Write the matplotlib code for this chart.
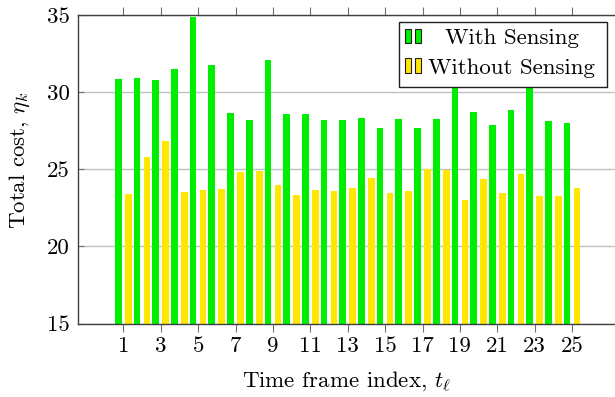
import matplotlib
matplotlib.use("Agg")
import matplotlib.pyplot as plt
from matplotlib.patches import Rectangle
import numpy as np

# ---- data ----
frames = list(range(1, 26))
with_sensing = [30.84, 30.93, 30.80, 31.50, 34.90, 31.77, 28.64, 28.20, 32.10, 28.55,
                28.57, 28.20, 28.20, 28.33, 27.66, 28.27, 27.68, 28.27, 31.00, 28.74,
                27.86, 28.85, 31.00, 28.10, 28.00]
without_sensing = [23.38, 25.80, 26.80, 23.50, 23.67, 23.70, 24.85, 24.87, 23.98, 23.33,
                   23.65, 23.56, 23.76, 24.44, 23.44, 23.59, 25.04, 24.95, 22.98, 24.37,
                   23.44, 24.69, 23.25, 23.25, 23.76]
xtick_vals = list(range(1, 26, 2))
ytick_vals = [15, 20, 25, 30, 35]
series_names = ["With Sensing", "Without Sensing"]

GREEN = "#00ee00"
YELLOW = "#ffe800"

plt.rcParams["font.family"] = ["cmr10"]
plt.rcParams["mathtext.fontset"] = "cm"
plt.rcParams["axes.formatter.use_mathtext"] = True

W, H = 615, 397
fig = plt.figure(figsize=(W / 100, H / 100), dpi=100)

def fx(p):
    return p / W

def fy(p):
    return 1 - p / H

ax_l, ax_r, ax_t, ax_b = 78.3, 617, 15, 323.5
ax = fig.add_axes([fx(ax_l), fy(ax_b), fx(ax_r) - fx(ax_l), fy(ax_t) - fy(ax_b)])

unit = 18.7
x0 = 1 - (123.3 - ax_l) / unit
x1 = 1 + (ax_r - 123.3) / unit
ax.set_xlim(x0, x1)
ax.set_ylim(15, 35)

x = np.array(frames, dtype=float)
bw = 0.36
off = 0.267
ax.bar(x - off, with_sensing, width=bw, color=GREEN, edgecolor="none", zorder=2)
ax.bar(x + off, without_sensing, width=bw, color=YELLOW, edgecolor="none", zorder=2)

ax.set_xticks(xtick_vals)
ax.set_xticklabels([str(v) for v in xtick_vals])
ax.set_yticks(ytick_vals)
ax.set_yticklabels([str(v) for v in ytick_vals])

ax.yaxis.grid(True, color="#c0c0c0", linewidth=1.0, zorder=0)
ax.set_axisbelow(True)

ax.tick_params(axis="x", which="both", direction="out", length=6, width=0.8,
               color="#707070", top=True, bottom=True, labelsize=16.5, pad=3)
ax.tick_params(axis="y", which="both", direction="in", length=4, width=0.8,
               color="#707070", left=True, right=False, labelsize=16.5, pad=6)

for s in ["left", "top", "bottom"]:
    ax.spines[s].set_color("#404040")
    ax.spines[s].set_linewidth(1.0)
ax.spines["right"].set_visible(False)

fig.text(fx(346), fy(382), r"Time frame index, $t_\ell$", ha="center", va="center",
         fontsize=16.5)
fig.text(fx(20), fy(160), r"Total cost, $\eta_k$", ha="center", va="center",
         rotation=90, fontsize=16.5)

# legend (drawn by hand, pgfplots-style)
box = Rectangle((fx(399), fy(87.3)), fx(607) - fx(399), fy(21.7) - fy(87.3),
                transform=fig.transFigure, facecolor="white", edgecolor="#202020",
                linewidth=1.0, zorder=10)
fig.patches.append(box)
rows = [(GREEN, 29.3, 43.3, 44.5), (YELLOW, 58.0, 73.0, 73.5)]
for (col, t, b, base), name in zip(rows, series_names):
    for xl in (405.0, 415.3):
        r = Rectangle((fx(xl), fy(b)), fx(5.5), fy(t) - fy(b), transform=fig.transFigure,
                      facecolor=col, edgecolor="#202020", linewidth=0.8, zorder=11)
        fig.patches.append(r)
    fig.text(fx(512), fy(base), name, ha="center", va="baseline", fontsize=16.5,
             zorder=12)

fig.savefig("out.png", dpi=100)
